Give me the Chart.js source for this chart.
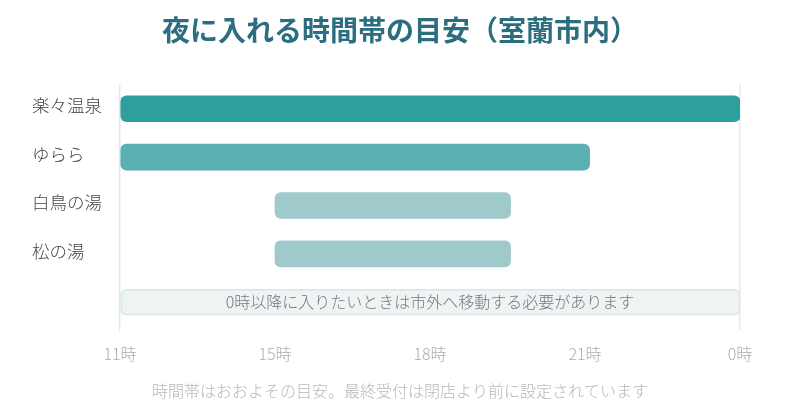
<!DOCTYPE html>
<html>
<head>
<meta charset="utf-8">
<script src="https://cdn.jsdelivr.net/npm/chart.js@4"></script>
<style>
html,body{margin:0;padding:0;background:#fff;}
#wrap{width:800px;height:420px;}
</style>
</head>
<body>
<div id="wrap"><canvas id="c"></canvas></div>
<script>
const titleText = '夜に入れる時間帯の目安（室蘭市内）';
const footerText = '時間帯はおおよその目安。最終受付は閉店より前に設定されています';
const noteText = '0時以降に入りたいときは市外へ移動する必要があります';
const categories = ['楽々温泉', 'ゆらら', '白鳥の湯', '松の湯', ''];
const tickLabels = ['11時', '15時', '18時', '21時', '0時'];
const startIdx = [0, 0, 1, 1, 0];
const endIdx = [4, 3.03, 2.52, 2.52, 4];
const barColors = ['#2e9e9e', '#5bb1b1', '#9fc9ca', '#9fc9ca', '#eef3f4'];
const borderColors = ['#2e9e9e', '#5bb1b1', '#9fc9ca', '#9fc9ca', '#d9e4e7'];
const borderWidths = [0, 0, 0, 0, 1.5];

const FONT = '"Noto Sans CJK JP", "Noto Sans", sans-serif';

const notePlugin = {
  id: 'noteText',
  afterDatasetsDraw(chart) {
    const meta = chart.getDatasetMeta(0);
    const el = meta.data[categories.length - 1];
    if (!el) return;
    const ctx = chart.ctx;
    ctx.save();
    ctx.font = '300 16px ' + FONT;
    ctx.fillStyle = '#74797c';
    ctx.textAlign = 'center';
    ctx.textBaseline = 'middle';
    const cx = (chart.chartArea.left + chart.chartArea.right) / 2;
    ctx.fillText(noteText, cx, el.y);
    ctx.restore();
  }
};

new Chart(document.getElementById('c'), {
  type: 'bar',
  data: {
    labels: categories,
    datasets: [{
      data: categories.map((_, i) => [startIdx[i], endIdx[i]]),
      backgroundColor: barColors,
      borderColor: borderColors,
      borderWidth: borderWidths,
      borderSkipped: false,
      borderRadius: 6,
      barThickness: 26,
      yAxisID: 'y'
    }]
  },
  options: {
    indexAxis: 'y',
    responsive: true,
    maintainAspectRatio: false,
    animation: false,
    layout: { padding: { left: 32, right: 32, top: 0, bottom: 0 } },
    plugins: {
      legend: { display: false },
      tooltip: { enabled: false },
      title: {
        display: true,
        text: titleText,
        color: '#2a6e7f',
        font: { family: FONT, size: 28, weight: 'bold' },
        padding: { top: 14, bottom: 37 }
      },
      subtitle: {
        display: true,
        position: 'bottom',
        text: footerText,
        color: '#b8b8b8',
        font: { family: FONT, size: 16, weight: 300 },
        padding: { top: 3.4, bottom: 19 }
      }
    },
    scales: {
      x: {
        type: 'linear',
        min: 0,
        max: 4,
        afterBuildTicks(scale) {
          scale.ticks = tickLabels.map((_, i) => ({ value: i }));
        },
        ticks: {
          padding: 14.4,
          color: '#a9adb0',
          font: { family: FONT, size: 16, weight: 300 },
          callback: (v) => tickLabels[v] ?? ''
        },
        grid: {
          drawTicks: true,
          tickLength: 4,
          lineWidth: 1.5,
          color: (c) => (c.tick && (c.tick.value === 0 || c.tick.value === 4)) ? '#e3eaee' : 'rgba(0,0,0,0)'
        },
        border: { display: false }
      },
      y: {
        type: 'category',
        offset: true,
        afterFit(scale) { scale.width = 88; },
        ticks: {
          crossAlign: 'far',
          labelOffset: -3,
          color: '#444',
          font: { family: FONT, size: 17.5, weight: 300 }
        },
        grid: { display: false },
        border: { display: false }
      },
      yRight: {
        type: 'category',
        position: 'right',
        offset: true,
        afterFit(scale) { scale.width = 28; },
        ticks: { display: false },
        grid: { display: false },
        border: { display: false }
      }
    }
  },
  plugins: [notePlugin]
});
</script>
</body>
</html>
